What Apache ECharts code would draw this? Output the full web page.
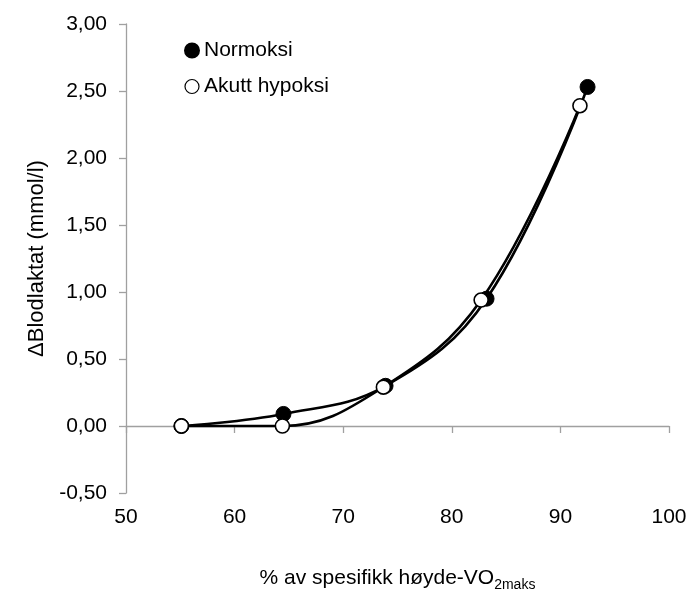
<!DOCTYPE html>
<html>
<head>
<meta charset="utf-8">
<script src="https://cdn.jsdelivr.net/npm/echarts@6/dist/echarts.min.js"></script>
<style>
  html, body { margin: 0; padding: 0; background: #fff; }
  #chart { width: 693px; height: 603px; }
</style>
</head>
<body>
<div id="chart"></div>
<script>
// % of altitude-specific VO2max for each workload step
const normoksiX = [55.1, 64.5, 73.9, 83.2, 92.5];
const normoksiY = [0.00, 0.09, 0.30, 0.95, 2.53];
const hypoksiX = [55.1, 64.4, 73.7, 82.7, 91.8];
const hypoksiY = [0.00, 0.00, 0.29, 0.94, 2.39];
const seriesNames = ['Normoksi', 'Akutt hypoksi'];
const xTicks = [50, 60, 70, 80, 90, 100];
const yTicks = [-0.5, 0, 0.5, 1, 1.5, 2, 2.5, 3];

const pairs = (xs, ys) => xs.map((x, i) => [x, ys[i]]);
const font = '"Liberation Sans", Arial, sans-serif';
const axisGrey = '#a0a0a0';

const chart = echarts.init(document.getElementById('chart'));
chart.setOption({
  animation: false,
  backgroundColor: '#fff',
  textStyle: { fontFamily: font },
  grid: { left: 126, right: 24, top: 24, bottom: 110, containLabel: false },
  legend: {
    orient: 'vertical',
    left: 179,
    top: 35,
    itemGap: 15,
    itemWidth: 14,
    itemHeight: 14,
    textStyle: { fontFamily: font, fontSize: 21, color: '#000' },
    data: [
      { name: seriesNames[0], icon: 'circle' },
      { name: seriesNames[1], icon: 'circle', itemStyle: { borderWidth: 1.2 } }
    ]
  },
  xAxis: {
    type: 'value',
    min: xTicks[0],
    max: xTicks[xTicks.length - 1],
    interval: 10,
    name: '{n|% av spesifikk høyde-VO}{s|2maks}',
    nameLocation: 'middle',
    nameGap: 75,
    nameTextStyle: {
      rich: {
        n: { fontFamily: font, fontSize: 21, color: '#000' },
        s: { fontFamily: font, fontSize: 14, color: '#000', verticalAlign: 'bottom', padding: [0, 0, -3, 0] }
      }
    },
    axisLine: { show: true, lineStyle: { color: axisGrey, width: 1.3 } },
    axisTick: { show: true, inside: false, length: 7, lineStyle: { color: axisGrey, width: 1.3 } },
    axisLabel: { fontFamily: font, fontSize: 21, color: '#000', margin: 14 },
    splitLine: { show: false }
  },
  yAxis: {
    type: 'value',
    min: yTicks[0],
    max: yTicks[yTicks.length - 1],
    interval: 0.5,
    name: 'ΔBlodlaktat (mmol/l)',
    nameLocation: 'middle',
    nameGap: 78,
    nameTextStyle: { fontFamily: font, fontSize: 22, color: '#000' },
    axisLine: { show: true, onZero: false, lineStyle: { color: axisGrey, width: 1.3 } },
    axisTick: { show: true, inside: false, length: 7, lineStyle: { color: axisGrey, width: 1.3 } },
    axisLabel: {
      fontFamily: font, fontSize: 21, color: '#000', margin: 19,
      formatter: v => v.toFixed(2).replace('.', ',')
    },
    splitLine: { show: false }
  },
  series: [
    {
      name: seriesNames[0],
      type: 'line',
      smooth: 0.4,
      data: pairs(normoksiX, normoksiY),
      symbol: 'circle',
      symbolSize: 15,
      lineStyle: { color: '#000', width: 2.6 },
      itemStyle: { color: '#000', borderColor: '#000', borderWidth: 1 },
      z: 2
    },
    {
      name: seriesNames[1],
      type: 'line',
      smooth: 0.4,
      data: pairs(hypoksiX, hypoksiY),
      symbol: 'circle',
      symbolSize: 14,
      lineStyle: { color: '#000', width: 2.6 },
      itemStyle: { color: '#fff', borderColor: '#000', borderWidth: 1.6 },
      z: 3
    }
  ]
});
</script>
</body>
</html>
